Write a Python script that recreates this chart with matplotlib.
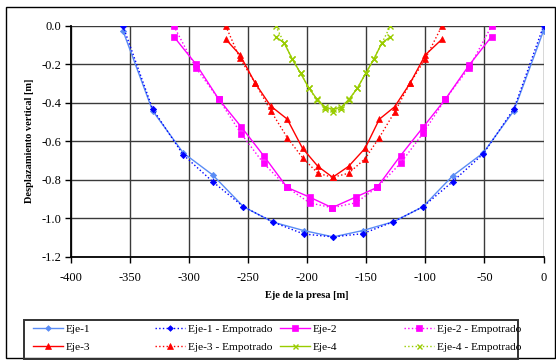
import matplotlib
matplotlib.use("Agg")
import matplotlib.pyplot as plt
from matplotlib.patches import Rectangle

plt.rcParams['font.family'] = ['Liberation Serif', 'DejaVu Serif']
plt.rcParams['axes.unicode_minus'] = False

# ---- data ----
x1 = [-356, -331, -305, -280, -254, -229, -203, -178, -153, -127, -102, -77, -51, -25, 0]
eje1 = [-0.025, -0.44, -0.66, -0.775, -0.94, -1.02, -1.064, -1.097, -1.064, -1.018, -0.94, -0.78, -0.66, -0.44, -0.025]
eje1_emp = [0.0, -0.43, -0.67, -0.81, -0.94, -1.02, -1.082, -1.097, -1.08, -1.018, -0.94, -0.81, -0.665, -0.43, 0.0]

x2 = [-313, -294, -275, -256, -237, -217, -198, -179, -159, -141, -121, -102, -83, -63, -44]
eje2 = [-0.055, -0.20, -0.38, -0.524, -0.674, -0.84, -0.89, -0.945, -0.89, -0.84, -0.674, -0.527, -0.38, -0.204, -0.055]
eje2_emp = [0.0, -0.22, -0.38, -0.56, -0.714, -0.84, -0.92, -0.945, -0.92, -0.84, -0.714, -0.558, -0.38, -0.217, 0.0]

x3 = [-269, -257, -244, -231, -217, -204, -191, -178.5, -165, -151, -139, -126, -113, -100, -86]
eje3 = [-0.069, -0.15, -0.298, -0.416, -0.484, -0.636, -0.73, -0.787, -0.73, -0.636, -0.485, -0.42, -0.298, -0.15, -0.069]
eje3_emp = [0.0, -0.168, -0.298, -0.44, -0.58, -0.685, -0.766, -0.787, -0.766, -0.69, -0.58, -0.447, -0.298, -0.17, 0.0]

x4 = [-226.7, -219.6, -212.6, -205.6, -198.5, -191.7, -185, -178.5, -171.4, -164.6, -157.6, -150.5, -143.7, -136.7, -129.6]
eje4 = [-0.057, -0.087, -0.173, -0.246, -0.324, -0.381, -0.423, -0.433, -0.423, -0.381, -0.324, -0.246, -0.173, -0.087, -0.057]
eje4_emp = [0.0, -0.087, -0.173, -0.246, -0.324, -0.385, -0.43, -0.446, -0.43, -0.385, -0.324, -0.246, -0.173, -0.087, 0.0]

xticks = [-400, -350, -300, -250, -200, -150, -100, -50, 0]
yticks = [0.0, -0.2, -0.4, -0.6, -0.8, -1.0, -1.2]

series = [
    ("Eje-1", x1, eje1, '#5A8CF5', '-', 'D', 3.2),
    ("Eje-1 - Empotrado", x1, eje1_emp, '#0000FF', ':', 'D', 3.2),
    ("Eje-2", x2, eje2, '#FF00FF', '-', 's', 4.2),
    ("Eje-2 - Empotrado", x2, eje2_emp, '#FF00FF', ':', 's', 4.2),
    ("Eje-3", x3, eje3, '#FF0000', '-', '^', 5.0),
    ("Eje-3 - Empotrado", x3, eje3_emp, '#FF0000', ':', '^', 5.0),
    ("Eje-4", x4, eje4, '#99CC00', '-', 'x', 4.0),
    ("Eje-4 - Empotrado", x4, eje4_emp, '#99CC00', ':', 'x', 4.0),
]

W, H = 556, 360
fig = plt.figure(figsize=(W / 100, H / 100), dpi=100)
ax = fig.add_axes([71 / W, 1 - 256.7 / H, (543.5 - 71) / W, (256.7 - 26) / H])

handles = {}
for name, xs, ys, c, ls, mk, ms in series:
    ln, = ax.plot(xs, ys, color=c, linestyle=ls, marker=mk, markersize=ms,
                  linewidth=1.0, markeredgewidth=1.0 if mk == 'x' else 0.5,
                  markeredgecolor=c, markerfacecolor=c, zorder=3)
    handles[name] = ln

ax.set_xlim(-400, 0)
ax.set_ylim(-1.2, 0.0)
ax.set_xticks(xticks)
ax.set_yticks(yticks)
ax.set_xticklabels([str(v) for v in xticks])
ax.set_yticklabels(['%.1f' % v for v in yticks])
ax.grid(True, color='#3a3a3a', linewidth=1.0)
ax.set_axisbelow(True)
for s in ['top', 'right']:
    ax.spines[s].set_visible(False)
for s in ['left', 'bottom']:
    ax.spines[s].set_linewidth(1.3)
    ax.spines[s].set_color('black')
ax.tick_params(axis='both', direction='out', length=4, width=1.0, labelsize=9, colors='black')
ax.tick_params(axis='x', pad=7)
ax.tick_params(axis='y', pad=3)

fig.text(307 / W, 1 - 296 / H, "Eje de la presa [m]", ha='center', va='center',
         fontsize=7.5, fontweight='bold')
fig.text(30 / W, 1 - 141 / H, "Desplazamiento vertical [m]", ha='center', va='center',
         rotation=90, fontsize=7.5, fontweight='bold')

# outer chart frame
fig.add_artist(Rectangle((6 / W, 1 - 358 / H), (555 - 6) / W, (358 - 7) / H,
                         transform=fig.transFigure, fill=False, edgecolor='black', linewidth=1.0))
# legend frame
fig.add_artist(Rectangle((24 / W, 1 - 359 / H), (518 - 24) / W, (359 - 320) / H,
                         transform=fig.transFigure, fill=False, edgecolor='#333333', linewidth=1.4))

cols = [["Eje-1", "Eje-3"], ["Eje-1 - Empotrado", "Eje-3 - Empotrado"],
        ["Eje-2", "Eje-4"], ["Eje-2 - Empotrado", "Eje-4 - Empotrado"]]
col_x = [33, 155, 280, 404]
for cx, names in zip(col_x, cols):
    fig.legend([handles[n] for n in names], names, loc='upper left',
               bbox_to_anchor=(cx / W, 1 - 324 / H), frameon=False,
               fontsize=8.2, handlelength=2.6, handletextpad=0.3,
               borderpad=0.0, borderaxespad=0.0, labelspacing=0.72,
               markerscale=0.9)

fig.savefig("out.png", dpi=100)
